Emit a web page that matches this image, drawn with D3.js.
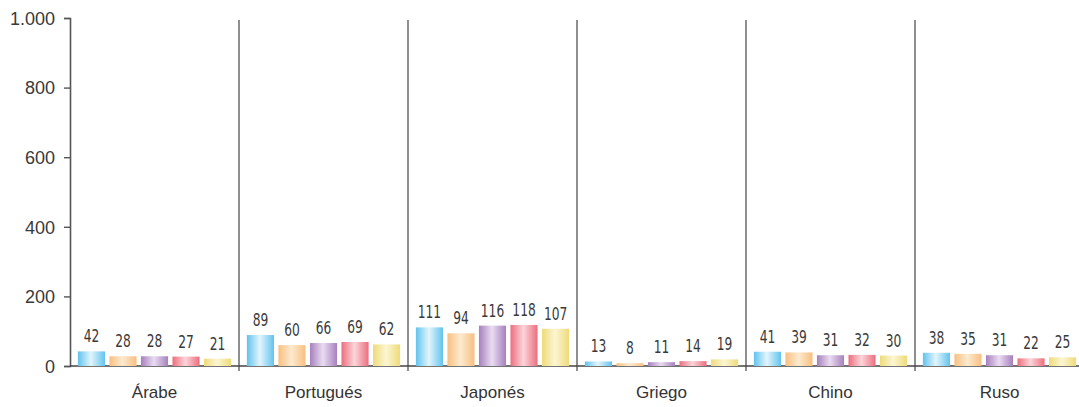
<!DOCTYPE html>
<html>
<head>
<meta charset="utf-8">
<script src="https://cdn.jsdelivr.net/npm/d3@7"></script>
<style>
  body { margin: 0; background: #fff; }
  .axis text { font-family: "Liberation Sans", Arial, sans-serif; font-size: 18px; fill: #3a3a3a; }
  .cat { font-family: "Liberation Sans", Arial, sans-serif; font-size: 17px; fill: #333; }
  .val { font-family: "DejaVu Sans Condensed", "DejaVu Sans", sans-serif; font-size: 17px; fill: #3a3a3a; }
</style>
</head>
<body>
<svg id="chart" width="1079" height="407"></svg>
<script>
var languages = ["Árabe", "Portugués", "Japonés", "Griego", "Chino", "Ruso"];
var seriesKeys = ["s1", "s2", "s3", "s4", "s5"];
var values = [
  [42, 28, 28, 27, 21],
  [89, 60, 66, 69, 62],
  [111, 94, 116, 118, 107],
  [13, 8, 11, 14, 19],
  [41, 39, 31, 32, 30],
  [38, 35, 31, 22, 25]
];
var yTicks = [0, 200, 400, 600, 800, 1000];
var edgeColors = ["#62c3ee", "#f8bf80", "#a680bd", "#ec6e7e", "#eedb7a"];
var midColors = ["#e2f5fc", "#fdeacf", "#eadcf1", "#fcd5da", "#fcf6d2"];

var svg = d3.select("#chart"),
    margin = {top: 18, right: -5, bottom: 41, left: 70},
    width = +svg.attr("width") - margin.left - margin.right,
    height = +svg.attr("height") - margin.top - margin.bottom;

var defs = svg.append("defs");
seriesKeys.forEach(function(k, i) {
  var grad = defs.append("linearGradient")
      .attr("id", "grad-" + k)
      .attr("x1", "0%").attr("x2", "100%").attr("y1", "0%").attr("y2", "0%");
  grad.append("stop").attr("offset", "0%").attr("stop-color", edgeColors[i]);
  grad.append("stop").attr("offset", "48%").attr("stop-color", midColors[i]);
  grad.append("stop").attr("offset", "100%").attr("stop-color", edgeColors[i]);
});

var g = svg.append("g")
    .attr("transform", "translate(" + margin.left + "," + margin.top + ")");

var x0 = d3.scaleBand().domain(languages).range([0, width]).padding(0);
var x1 = d3.scaleBand().domain(seriesKeys).range([0, x0.bandwidth()])
    .paddingInner(0.14).paddingOuter(0.25);
var y = d3.scaleLinear().domain([0, 1000]).range([height, 0]);

// y axis
var yAxis = g.append("g")
    .attr("class", "axis")
    .call(d3.axisLeft(y).tickValues(yTicks).tickSize(6).tickPadding(9)
      .tickFormat(function(d) { return d3.format(",")(d).replace(",", "."); }));
yAxis.select(".domain").attr("stroke", "#555").attr("stroke-width", 1.6);
yAxis.selectAll(".tick line").attr("stroke", "#555").attr("stroke-width", 1.4);
yAxis.selectAll(".tick text").attr("dy", "0.35em");

// x axis line
g.append("line")
    .attr("x1", 0).attr("x2", width)
    .attr("y1", height).attr("y2", height)
    .attr("stroke", "#444").attr("stroke-width", 1.6);

// separators between groups
g.selectAll(".sep")
  .data(languages.slice(1))
  .enter().append("line")
    .attr("class", "sep")
    .attr("x1", function(d) { return x0(d); })
    .attr("x2", function(d) { return x0(d); })
    .attr("y1", y(1000) + 2)
    .attr("y2", height + 5)
    .attr("stroke", "#444").attr("stroke-width", 1.2);

// groups
var group = g.selectAll(".group")
  .data(languages)
  .enter().append("g")
    .attr("class", "group")
    .attr("transform", function(d) { return "translate(" + x0(d) + ",0)"; });

group.selectAll("rect")
  .data(function(d, i) { return values[i].map(function(v, j) { return {key: seriesKeys[j], value: v}; }); })
  .enter().append("rect")
    .attr("x", function(d) { return x1(d.key); })
    .attr("y", function(d) { return y(d.value); })
    .attr("width", x1.bandwidth())
    .attr("height", function(d) { return height - y(d.value); })
    .attr("fill", function(d) { return "url(#grad-" + d.key + ")"; });

// value labels, squeezed horizontally like the condensed face in the original
group.selectAll(".val")
  .data(function(d, i) { return values[i].map(function(v, j) { return {key: seriesKeys[j], value: v}; }); })
  .enter().append("text")
    .attr("class", "val")
    .attr("transform", function(d) {
      return "translate(" + (x1(d.key) + x1.bandwidth() / 2) + "," + (y(d.value) - 9) + ") scale(0.8,1)";
    })
    .attr("text-anchor", "middle")
    .text(function(d) { return d.value; });

group.append("text")
    .attr("class", "cat")
    .attr("x", x0.bandwidth() / 2)
    .attr("y", height + 32)
    .attr("text-anchor", "middle")
    .text(function(d) { return d; });
</script>
</body>
</html>
